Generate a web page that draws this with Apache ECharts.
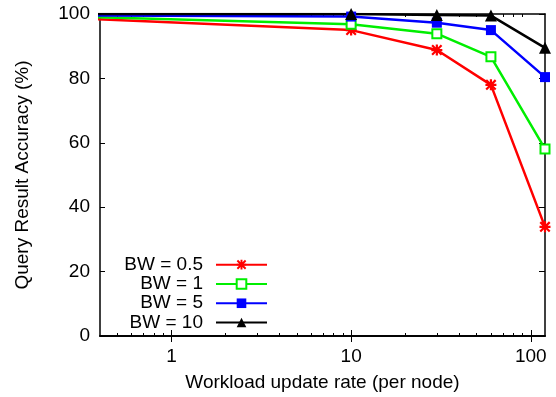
<!DOCTYPE html>
<html>
<head>
<meta charset="utf-8">
<script src="https://cdn.jsdelivr.net/npm/echarts@6/dist/echarts.min.js"></script>
<style>
html,body{margin:0;padding:0;background:#fff;}
#chart{width:556px;height:397px;}
</style>
</head>
<body>
<div id="chart"></div>
<script>
// Data
var rates = [0.1, 10, 30, 60, 120];
var bw05 = [99.8, 95.0, 88.8, 78.0, 33.9];
var bw1 = [99.9, 96.8, 93.9, 86.7, 58.1];
var bw5 = [99.7, 99.2, 97.3, 95.0, 80.4];
var bw10 = [100, 100, 99.7, 99.5, 89.5];
var seriesNames = ['BW = 0.5', 'BW = 1', 'BW = 5', 'BW = 10'];
var xLabels = [1, 10, 100];
var xMinor = [0.5,0.6,0.7,0.8,0.9,2,3,4,5,6,7,8,9,20,30,40,50,60,70,80,90];

function pairs(ys){ return rates.map(function(x,i){ return [x, ys[i]]; }); }

var FONT = 'Liberation Sans';
var FS = 19;
var starPath = 'path://M0 8L20 8L20 12L0 12Z M8 0L12 0L12 20L8 20Z M2.8 0L20 17.2L17.2 20L0 2.8Z M17.2 0L20 2.8L2.8 20L0 17.2Z';

function mkSeries(name, ys, color, symbol, size, extra){
  var s = {
    name: name, type: 'line', data: pairs(ys),
    xAxisIndex: 0, yAxisIndex: 0,
    symbol: symbol, symbolSize: size, showAllSymbol: true,
    clip: true,
    lineStyle: {color: color, width: 2.5},
    itemStyle: {color: color},
    emphasis: {disabled: true},
    animation: false
  };
  if (extra) { for (var k in extra) s[k] = extra[k]; }
  return s;
}

function mirrorX(pos, ticks, len){
  return {
    type: 'log', logBase: 10, min: 0.4, max: 120,
    position: pos, offset: 0,
    axisLine: {show: true, lineStyle: {color: '#000', width: 1.5}},
    axisTick: {show: true, inside: true, length: len, customValues: ticks, lineStyle: {color: '#000', width: 1}},
    axisLabel: {show: false},
    splitLine: {show: false}
  };
}

var chart = echarts.init(document.getElementById('chart'), null, {renderer: 'canvas'});
var axisLineStyle = {color: '#000', width: 1.5};
var option = {
  animation: false,
  backgroundColor: '#fff',
  textStyle: {fontFamily: FONT},
  grid: {left: 100, right: 11, top: 14, bottom: 61, containLabel: false},
  legend: {
    orient: 'vertical', align: 'right',
    right: 283, top: 250,
    itemWidth: 51, itemHeight: 12, itemGap: 0,
    data: seriesNames,
    textStyle: {fontFamily: FONT, fontSize: FS, color: '#000', lineHeight: 19.3, padding: [0, 8, 0, 0]},
    selectedMode: false
  },
  xAxis: [{
    type: 'log', logBase: 10, min: 0.4, max: 120,
    position: 'bottom',
    name: 'Workload update rate (per node)', nameLocation: 'middle', nameGap: 37,
    nameTextStyle: {fontFamily: FONT, fontSize: FS, color: '#000'},
    axisLine: {show: true, lineStyle: axisLineStyle},
    axisTick: {show: true, inside: true, length: 6, customValues: xLabels, lineStyle: {color: '#000', width: 1}},
    minorTick: {show: false},
    axisLabel: {customValues: xLabels, fontFamily: FONT, fontSize: FS, color: '#000', margin: 11},
    splitLine: {show: false}
  },
    mirrorX('top', xLabels, 6),
    mirrorX('bottom', xMinor, 3),
    mirrorX('top', xMinor, 3)
  ],
  yAxis: [{
    type: 'value', min: 0, max: 100, interval: 20,
    position: 'left',
    name: 'Query Result Accuracy (%)', nameLocation: 'middle', nameGap: 68,
    nameTextStyle: {fontFamily: FONT, fontSize: FS, color: '#000'},
    axisLine: {show: true, lineStyle: axisLineStyle},
    axisTick: {show: true, inside: true, length: 5, lineStyle: {color: '#000', width: 1}},
    axisLabel: {fontFamily: FONT, fontSize: FS, color: '#000', margin: 10},
    splitLine: {show: false}
  }, {
    type: 'value', min: 0, max: 100, interval: 20,
    position: 'right',
    axisLine: {show: true, lineStyle: axisLineStyle},
    axisTick: {show: true, inside: true, length: 6, lineStyle: {color: '#000', width: 1}},
    axisLabel: {show: false},
    splitLine: {show: false}
  }],
  series: [
    mkSeries(seriesNames[0], bw05, '#ff0000', starPath, 11),
    mkSeries(seriesNames[1], bw1, '#00ee00', 'emptyRect', 9, {itemStyle: {color: '#00ee00', borderWidth: 2}}),
    mkSeries(seriesNames[2], bw5, '#0000ff', 'rect', 10),
    mkSeries(seriesNames[3], bw10, '#000000', 'triangle', 12)
  ]
};
chart.setOption(option);
</script>
</body>
</html>
